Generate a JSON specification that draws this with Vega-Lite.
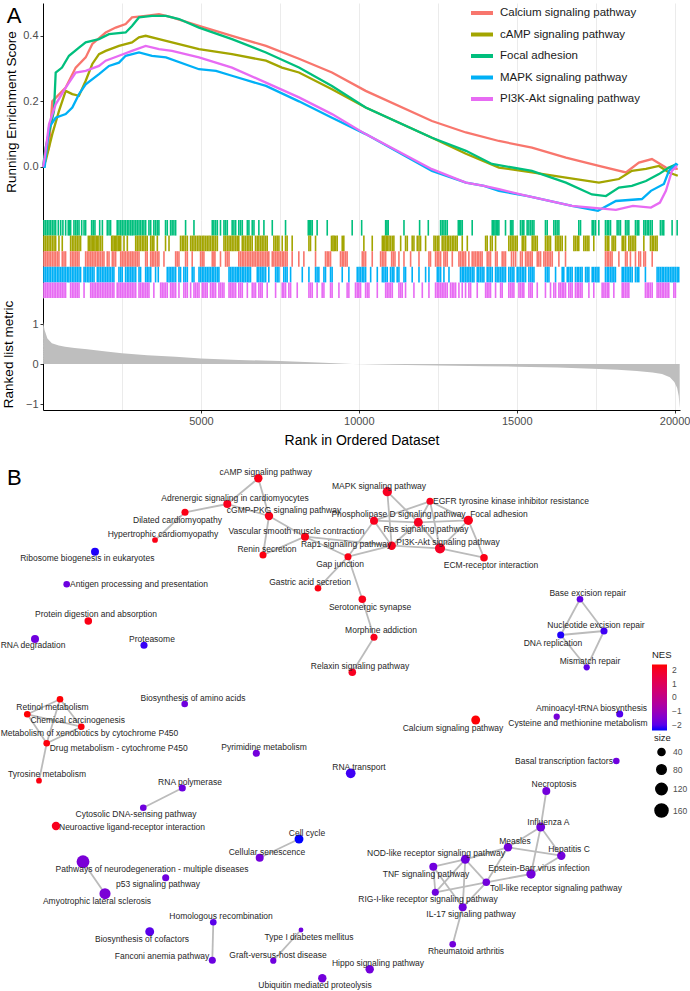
{
  "$schema": "https://vega.github.io/schema/vega-lite/v6.json",
  "padding": {"left": 0, "top": 0, "right": 0, "bottom": 0},
  "spacing": 0,
  "background": "white",
  "datasets": {
    "es": [
      {"set": "Calcium signaling pathway", "r": [1,85,190,294,719,1035,1352,1561,1985,2302,2618,2818,3251,3673,4084,4939,5984,7060,8105,9150,10217,12316,13392,14437,15482,16558,17603,18458,18869,19281,19724,20100], "es": [0,0.028,0.06,0.2,0.242,0.303,0.334,0.375,0.41,0.425,0.436,0.456,0.461,0.466,0.456,0.43,0.4,0.369,0.33,0.288,0.232,0.14,0.105,0.079,0.059,0.028,0.003,-0.017,0.013,0.024,-0.002,-0.006]},
      {"set": "cAMP signaling pathway", "r": [1,85,294,507,719,928,1140,1352,1561,1773,1985,2406,2818,3039,3251,3673,4084,4939,5984,7060,7567,8105,9150,10217,12316,13392,14437,15482,16558,17603,18236,18647,19091,19503,19819,20100], "es": [0,0.018,0.1,0.171,0.232,0.222,0.217,0.263,0.314,0.344,0.354,0.369,0.38,0.395,0.4,0.39,0.38,0.359,0.344,0.324,0.303,0.288,0.237,0.181,0.089,0.04,-0.002,-0.017,-0.033,-0.048,-0.037,-0.012,-0.006,0.003,-0.017,-0.027]},
      {"set": "Focal adhesion", "r": [1,85,348,402,602,823,1140,1352,1773,2089,2618,2818,3039,3451,3894,4306,4939,5984,7060,8105,9150,10217,12316,13392,14215,15482,16558,17382,17825,18236,18647,19091,19503,19819,20072], "es": [0,0.059,0.171,0.288,0.303,0.339,0.364,0.38,0.39,0.405,0.41,0.43,0.456,0.461,0.461,0.451,0.425,0.39,0.349,0.303,0.247,0.181,0.089,0.049,0.009,-0.012,-0.048,-0.084,-0.089,-0.063,-0.058,-0.043,-0.022,-0.002,0.009]},
      {"set": "MAPK signaling pathway", "r": [1,54,190,402,719,928,1140,1352,1773,2089,2406,2618,3039,3451,3894,4939,5477,5984,7060,8105,9150,10217,12316,13392,13962,14437,15355,16748,17571,18141,18964,19249,19661,19819,20041,20100], "es": [0,0,0.12,0.15,0.161,0.181,0.222,0.252,0.283,0.308,0.318,0.339,0.349,0.339,0.334,0.298,0.293,0.278,0.247,0.2,0.15,0.1,-0.012,-0.048,-0.058,-0.073,-0.089,-0.119,-0.134,-0.104,-0.098,-0.073,-0.052,-0.012,0.009,0.005]},
      {"set": "PI3K-Akt signaling pathway", "r": [1,54,190,402,719,1035,1352,1773,1985,2406,2818,3251,3673,4084,4939,5984,7060,8105,9150,10217,12316,13392,13962,14437,15355,16748,18141,18679,19249,19534,19724,19819,19914,20072], "es": [0,0.028,0.13,0.191,0.242,0.288,0.293,0.308,0.324,0.339,0.354,0.369,0.359,0.354,0.334,0.303,0.257,0.212,0.161,0.1,-0.007,-0.048,-0.058,-0.068,-0.089,-0.119,-0.131,-0.119,-0.124,-0.109,-0.073,-0.043,-0.012,0.003]}
    ],
    "rug": [
      {"set": "Focal adhesion", "pos": [30,85,135,190,240,295,350,400,485,560,630,717,800,845,875,980,1035,1085,1140,1225,1300,1350,1540,1590,1645,1795,1880,2035,2090,2140,2350,2405,2460,2510,2565,2615,2670,2720,2775,2825,2880,2935,2985,3040,3090,3145,3195,3250,3355,3410,3510,3565,3620,3670,3880,3935,4040,4090,4145,4200,4515,4780,5360,5410,5465,5520,5620,5730,5780,5835,5990,6045,6100,6200,6255,6310,6470,6520,6625,6680,6835,6995,7260,7680,8400,8440,8480,8525,8680,9000,9790,10090,10850,10890,10930,11430,11925,12200,12590,12640,12695,12745,12800,13150,13190,13230,13275,13590,14225,14265,14310,14350,14395,14435,14645,14805,14845,14880,15120,15175,15225,15330,15385,15440,15490,15545,15910,15965,16175,16230,16280,16335,16965,17020,17390,17440,17495,17600,17810,17865,17915,17970,18180,18235,18285,18445,18495,18550,18760,18815,18865,19025,19075,19130,19180,19235,19290,19550,19605,19655,19920,20080]},
      {"set": "cAMP signaling pathway", "pos": [30,85,135,190,240,295,350,400,505,610,875,930,980,1035,1085,1140,1190,1435,1475,1520,1560,1605,1645,1690,1720,1770,1825,1880,2175,2215,2260,2300,2340,2385,2425,2460,2565,2670,2935,2985,3040,3090,3145,3195,3250,3300,3410,3460,3510,3620,3880,3990,4355,4410,4460,4515,4570,4675,4725,4780,4830,4885,4940,4990,5045,5095,5150,5200,5255,5305,5360,5410,5465,5520,5730,5780,5835,5890,5940,5990,6045,6100,6150,6200,6310,6360,6415,6470,6520,6570,6625,6730,6785,6835,6890,6940,6995,7050,7100,7310,7365,7415,7470,7575,7680,7730,7890,8420,8470,8630,9135,9180,9220,9265,9315,9475,9525,10160,10425,10745,10785,10825,10870,10900,10955,11005,11060,11110,11325,11480,11535,11690,11745,11850,11905,11955,12115,12380,12430,12485,12535,12640,12695,12745,12800,12850,12905,12960,13010,13065,13115,13275,13435,14015,14065,14170,14225,14330,14750,14805,14855,14910,14965,15015,15175,15225,15280,15490,15545,15595,15650,15910,15965,16020,16070,16230,16280,16335,16385,16440,16545,16810,16860,16915,16965,17125,17180,17230,17285,17440,17810,17865,17915,18020,18075,18125,18340,18390,18445,18550,18600,18655,18710,18760,19025,19235,19290,19340,19395,19445]},
      {"set": "Calcium signaling pathway", "pos": [30,85,135,190,240,295,350,400,455,505,610,665,715,875,930,980,1035,1085,1140,1350,1405,1455,1510,1560,1615,1665,1720,1770,1825,1880,1930,2035,2090,2195,2245,2300,2460,2510,2565,2615,2670,2720,2775,2825,2880,2935,2985,3040,3250,3300,3410,3460,3510,3565,3620,3670,3830,4200,4250,4305,4515,4570,4725,4990,5045,5095,5360,5410,5445,5620,5780,5835,5890,6200,6255,6310,6360,6415,6470,6520,6570,6625,6680,6730,6785,6835,6890,6940,6995,7050,7100,7150,7260,7310,7365,7415,7470,7520,7575,7625,7680,7730,7890,8100,8260,8630,8945,9000,9050,9105,9420,9475,9525,9580,9630,10110,10160,10215,10425,10690,10745,10795,10850,11040,11090,11145,11270,11430,11640,11905,12220,12270,12430,12485,12535,12590,12695,12745,12800,12960,13170,13220,13275,13325,13380,13485,13590,13645,13695,13750,13800,13855,13905,14065,14120,14170,14330,14380,14540,14595,14645,14835,14900,14965,15120,15175,15280,15330,15385,15440,15490,15650,15700,15755,15860,15910,15965,16020,16070,16125,16335,16545,17810,17865,17915,17970,18020,18235,18445,18495,18600,18760,18865,18920,19025,19075,19290]},
      {"set": "MAPK signaling pathway", "pos": [30,85,135,190,240,295,350,400,455,505,560,610,665,715,770,820,875,930,980,1035,1085,1140,1190,1300,1350,1405,1455,1510,1560,1615,1720,1770,1825,1880,1930,1985,2035,2090,2140,2195,2245,2405,2460,2510,2615,2670,2720,2775,2825,2880,2935,3040,3090,3250,3300,3355,3410,3565,3650,3935,3990,4040,4090,4145,4200,4305,4355,4460,4515,4570,4725,4780,4940,4990,5045,5095,5150,5200,5255,5305,5360,5410,5465,5520,5570,5890,5940,5990,6045,6100,6150,6200,6255,6310,6360,6415,6470,6520,6570,6785,6835,6890,6940,6995,7050,7150,7365,7415,7470,7625,7680,7730,7840,8210,8420,8630,8680,8735,8895,8945,9105,9155,9475,9685,9950,10005,10055,10110,10160,10215,10375,10585,10745,10795,10850,10900,11005,11060,11110,11215,11270,11430,11480,11690,11905,12115,12220,12485,12535,12590,12695,12855,13220,13275,13325,13380,13430,13485,13535,13590,13645,13750,13800,13855,13905,13960,14065,14120,14170,14225,14330,14380,14435,14490,14540,14595,14645,14750,14805,14855,14910,15015,15070,15120,15175,15225,15280,15385,15440,15490,15545,15910,15965,16020,16230,16440,16490,16600,16650,16705,16755,16860,16915,16965,17020,17070,17180,17230,17285,17390,17440,17495,17545,17600,17810,17865,17915,17970,18020,18075,18125,18340,18390,18445,18495,18550,18600,18655,18760,18815,18865,19075,19445,19500,19550,19605,19655,19710,19760,19815,19870,19920,19975,20025,20080,20130]},
      {"set": "PI3K-Akt signaling pathway", "pos": [30,85,135,190,240,295,350,400,455,505,560,610,665,715,875,930,980,1035,1085,1140,1300,1510,1560,1615,1665,1720,1770,1825,1880,1930,1985,2035,2090,2140,2195,2245,2350,2405,2460,2510,2565,2615,2670,2720,2775,2825,2880,2935,3040,3090,3145,3195,3250,3300,3355,3510,3725,3775,3830,3880,3935,4040,4090,4145,4200,4305,4460,4515,4570,4675,4780,4830,4885,4940,5045,5095,5150,5200,5305,5360,5410,5465,5570,5620,5675,5730,5890,5940,5990,6045,6100,6200,6255,6310,6470,6625,6680,6730,6835,6890,6940,7100,7365,7575,7625,7680,7785,7840,8050,8420,8470,8525,8680,8840,8895,9105,9155,9370,9630,9685,9895,9950,10000,10055,10215,10270,10320,10585,10850,10900,10955,11005,11060,11270,11325,11375,11480,11745,12010,12220,12430,12485,12535,12590,12640,12695,12745,12800,12905,12960,13010,13065,13170,13275,13380,13485,13540,13750,14015,14065,14120,14170,14330,14490,14540,14750,14805,14855,14910,15070,15120,15175,15225,15385,15440,15490,15650,15910,16070,16175,16230,16335,16385,16440,16490,16545,16650,16705,16755,16860,16915,16965,17020,17070,17285,17440,17705,17760,17810,17865,17915,18075,18340,18390,18445,18495,18550,19075,19130,19180,19235,19290,19445,19500,19550,19605,19655,19710,19760,19815,19975,20025]}
    ],
    "ranked": [
      {"r": [1,50,140,280,500,700,1000,1400,2000,2500,3300,4200,5000,6200,7500,8700,9800,11000,12500,14000,15000,16300,17400,18200,18800,19300,19600,19850,19990,20080,20130,20160], "m": [1.05,0.85,0.64,0.52,0.46,0.43,0.4,0.37,0.31,0.27,0.22,0.18,0.14,0.1,0.075,0.04,0,-0.02,-0.035,-0.055,-0.067,-0.09,-0.12,-0.145,-0.175,-0.21,-0.25,-0.33,-0.45,-0.6,-0.8,-1.1]}
    ],
    "nodes": [
      {"id": "cAMP signaling pathway", "x": 259.3, "y": 478.3, "lx": 266.7, "ly": 472.3, "NES": 2.2, "size": 61},
      {"id": "Adrenergic signaling in cardiomyocytes", "x": 228.3, "y": 504, "lx": 236, "ly": 498, "NES": 2.1, "size": 54},
      {"id": "Dilated cardiomyopathy", "x": 186, "y": 512.3, "lx": 178.5, "ly": 520, "NES": 2.2, "size": 40},
      {"id": "Hypertrophic cardiomyopathy", "x": 156, "y": 540, "lx": 164, "ly": 534, "NES": 2.2, "size": 23},
      {"id": "cGMP-PKG signaling pathway", "x": 270, "y": 516, "lx": 285, "ly": 510, "NES": 2.15, "size": 61},
      {"id": "Vascular smooth muscle contraction", "x": 306, "y": 536.7, "lx": 297.5, "ly": 530.7, "NES": 2.2, "size": 54},
      {"id": "Renin secretion", "x": 264, "y": 555, "lx": 268, "ly": 548.7, "NES": 2.25, "size": 40},
      {"id": "Ribosome biogenesis in eukaryotes", "x": 96, "y": 551.7, "lx": 88.3, "ly": 558.3, "NES": -2.35, "size": 54},
      {"id": "Antigen processing and presentation", "x": 67.7, "y": 584.3, "lx": 140, "ly": 584, "NES": -1.8, "size": 34},
      {"id": "Protein digestion and absorption", "x": 89.3, "y": 621, "lx": 97, "ly": 614.3, "NES": 2.2, "size": 47},
      {"id": "Gastric acid secretion", "x": 319, "y": 588.3, "lx": 311, "ly": 582, "NES": 2.25, "size": 34},
      {"id": "Rap1 signaling pathway", "x": 392.7, "y": 545.7, "lx": 347, "ly": 544, "NES": 2.1, "size": 61},
      {"id": "Gap junction", "x": 349, "y": 556.7, "lx": 341, "ly": 564.3, "NES": 2.2, "size": 40},
      {"id": "MAPK signaling pathway", "x": 388.3, "y": 491.7, "lx": 380, "ly": 485.7, "NES": 2.05, "size": 77},
      {"id": "EGFR tyrosine kinase inhibitor resistance", "x": 431, "y": 501.3, "lx": 512, "ly": 501, "NES": 2.1, "size": 40},
      {"id": "Phospholipase D signaling pathway", "x": 375, "y": 520.7, "lx": 399.5, "ly": 514.3, "NES": 2.1, "size": 54},
      {"id": "Ras signaling pathway", "x": 419.3, "y": 522.3, "lx": 427, "ly": 529, "NES": 2.05, "size": 69},
      {"id": "Focal adhesion", "x": 469.3, "y": 520.3, "lx": 500, "ly": 514, "NES": 2.15, "size": 77},
      {"id": "PI3K-Akt signaling pathway", "x": 441, "y": 548.3, "lx": 449, "ly": 542.3, "NES": 2.0, "size": 94},
      {"id": "ECM-receptor interaction", "x": 485, "y": 557.7, "lx": 492, "ly": 565, "NES": 2.2, "size": 47},
      {"id": "Serotonergic synapse", "x": 363.3, "y": 599.3, "lx": 371, "ly": 606.7, "NES": 2.15, "size": 47},
      {"id": "Base excision repair", "x": 581, "y": 599.3, "lx": 588.7, "ly": 592.7, "NES": -1.9, "size": 34},
      {"id": "Nucleotide excision repair", "x": 605, "y": 631, "lx": 597, "ly": 625.3, "NES": -2.2, "size": 40},
      {"id": "RNA degradation", "x": 36, "y": 639, "lx": 34, "ly": 645.3, "NES": -1.75, "size": 54},
      {"id": "Proteasome", "x": 145, "y": 645.3, "lx": 153, "ly": 639.3, "NES": -2.25, "size": 40},
      {"id": "Biosynthesis of amino acids", "x": 185.7, "y": 704, "lx": 194, "ly": 697.7, "NES": -1.75, "size": 34},
      {"id": "Metabolism of xenobiotics by cytochrome P450", "x": 61, "y": 699.3, "lx": 90.5, "ly": 733.3, "NES": 2.35, "size": 34},
      {"id": "Retinol metabolism", "x": 28.3, "y": 714.3, "lx": 53.5, "ly": 706.7, "NES": 2.35, "size": 34},
      {"id": "Chemical carcinogenesis", "x": 82.3, "y": 726.7, "lx": 78.7, "ly": 720, "NES": 2.3, "size": 34},
      {"id": "Drug metabolism - cytochrome P450", "x": 47.7, "y": 743.3, "lx": 119.7, "ly": 747.7, "NES": 2.3, "size": 34},
      {"id": "Tyrosine metabolism", "x": 40, "y": 780.7, "lx": 48, "ly": 774, "NES": 2.25, "size": 23},
      {"id": "Pyrimidine metabolism", "x": 257.3, "y": 753.3, "lx": 265, "ly": 746.7, "NES": -1.7, "size": 40},
      {"id": "RNA polymerase", "x": 183.3, "y": 788, "lx": 191, "ly": 781.7, "NES": -1.8, "size": 40},
      {"id": "Cytosolic DNA-sensing pathway", "x": 144.3, "y": 807.7, "lx": 137, "ly": 814.3, "NES": -1.75, "size": 34},
      {"id": "Neuroactive ligand-receptor interaction", "x": 57, "y": 826, "lx": 133, "ly": 826.7, "NES": 2.1, "size": 61},
      {"id": "Morphine addiction", "x": 375, "y": 637.3, "lx": 382, "ly": 630, "NES": 2.1, "size": 40},
      {"id": "Relaxin signaling pathway", "x": 353.3, "y": 672.3, "lx": 361, "ly": 665.7, "NES": 2.05, "size": 47},
      {"id": "DNA replication", "x": 561.7, "y": 635, "lx": 554, "ly": 642.7, "NES": -2.35, "size": 40},
      {"id": "Mismatch repair", "x": 587.7, "y": 667.3, "lx": 591, "ly": 661, "NES": -1.95, "size": 29},
      {"id": "Calcium signaling pathway", "x": 476.7, "y": 720, "lx": 454, "ly": 727.7, "NES": 2.35, "size": 69},
      {"id": "Aminoacyl-tRNA biosynthesis", "x": 620.7, "y": 714, "lx": 592.5, "ly": 707.7, "NES": -2.05, "size": 40},
      {"id": "Cysteine and methionine metabolism", "x": 557.7, "y": 716.7, "lx": 579, "ly": 723.3, "NES": -1.65, "size": 29},
      {"id": "Basal transcription factors", "x": 617.3, "y": 761, "lx": 565, "ly": 761, "NES": -1.75, "size": 34},
      {"id": "RNA transport", "x": 351.7, "y": 773.3, "lx": 360, "ly": 766.7, "NES": -2.2, "size": 85},
      {"id": "Necroptosis", "x": 547.3, "y": 791, "lx": 555, "ly": 784.3, "NES": -1.7, "size": 54},
      {"id": "Influenza A", "x": 541.7, "y": 827, "lx": 549.3, "ly": 821.7, "NES": -1.75, "size": 69},
      {"id": "Cell cycle", "x": 300, "y": 839, "lx": 308, "ly": 832.7, "NES": -2.4, "size": 69},
      {"id": "Cellular senescence", "x": 260.7, "y": 857.7, "lx": 268, "ly": 851.7, "NES": -1.7, "size": 54},
      {"id": "Pathways of neurodegeneration - multiple diseases", "x": 84, "y": 861.7, "lx": 153, "ly": 868.7, "NES": -1.6, "size": 155},
      {"id": "p53 signaling pathway", "x": 166.7, "y": 877.7, "lx": 159, "ly": 884.3, "NES": -1.75, "size": 40},
      {"id": "Amyotrophic lateral sclerosis", "x": 106, "y": 893.7, "lx": 98, "ly": 900.7, "NES": -1.6, "size": 113},
      {"id": "Homologous recombination", "x": 214.3, "y": 922.3, "lx": 222, "ly": 916, "NES": -2.0, "size": 34},
      {"id": "Biosynthesis of cofactors", "x": 150.7, "y": 931.7, "lx": 143, "ly": 938.7, "NES": -2.0, "size": 69},
      {"id": "Fanconi anemia pathway", "x": 213.3, "y": 960.3, "lx": 163, "ly": 955.7, "NES": -1.8, "size": 40},
      {"id": "Type I diabetes mellitus", "x": 302, "y": 930, "lx": 310, "ly": 937, "NES": -1.75, "size": 14},
      {"id": "Graft-versus-host disease", "x": 274.3, "y": 960.7, "lx": 279, "ly": 954.7, "NES": -1.75, "size": 29},
      {"id": "Ubiquitin mediated proteolysis", "x": 323.3, "y": 978.3, "lx": 316, "ly": 984.5, "NES": -1.7, "size": 61},
      {"id": "Hippo signaling pathway", "x": 370.7, "y": 969.3, "lx": 379, "ly": 963.3, "NES": -1.7, "size": 61},
      {"id": "Measles", "x": 509, "y": 847.3, "lx": 516, "ly": 841, "NES": -1.7, "size": 61},
      {"id": "Hepatitis C", "x": 562.3, "y": 855.7, "lx": 570, "ly": 849.3, "NES": -1.7, "size": 61},
      {"id": "NOD-like receptor signaling pathway", "x": 466.3, "y": 859.3, "lx": 437, "ly": 853.3, "NES": -1.75, "size": 69},
      {"id": "TNF signaling pathway", "x": 434.3, "y": 866.7, "lx": 427, "ly": 874, "NES": -1.75, "size": 54},
      {"id": "Epstein-Barr virus infection", "x": 532, "y": 874, "lx": 540, "ly": 867.7, "NES": -1.7, "size": 77},
      {"id": "Toll-like receptor signaling pathway", "x": 487.3, "y": 882.3, "lx": 557, "ly": 888.3, "NES": -1.7, "size": 47},
      {"id": "RIG-I-like receptor signaling pathway", "x": 436.3, "y": 892.3, "lx": 429, "ly": 899.3, "NES": -1.75, "size": 40},
      {"id": "IL-17 signaling pathway", "x": 463.7, "y": 907.3, "lx": 472, "ly": 914.3, "NES": -1.75, "size": 54},
      {"id": "Rheumatoid arthritis", "x": 453.7, "y": 944.3, "lx": 467, "ly": 951.3, "NES": -1.7, "size": 34}
    ],
    "edges": [
      {"a": "cAMP signaling pathway", "b": "Adrenergic signaling in cardiomyocytes"},
      {"a": "cAMP signaling pathway", "b": "cGMP-PKG signaling pathway"},
      {"a": "Adrenergic signaling in cardiomyocytes", "b": "Dilated cardiomyopathy"},
      {"a": "Adrenergic signaling in cardiomyocytes", "b": "cGMP-PKG signaling pathway"},
      {"a": "Dilated cardiomyopathy", "b": "Hypertrophic cardiomyopathy"},
      {"a": "cGMP-PKG signaling pathway", "b": "Renin secretion"},
      {"a": "cGMP-PKG signaling pathway", "b": "Vascular smooth muscle contraction"},
      {"a": "Vascular smooth muscle contraction", "b": "Renin secretion"},
      {"a": "Vascular smooth muscle contraction", "b": "Rap1 signaling pathway"},
      {"a": "Vascular smooth muscle contraction", "b": "Gap junction"},
      {"a": "Gastric acid secretion", "b": "Gap junction"},
      {"a": "Gap junction", "b": "Rap1 signaling pathway"},
      {"a": "Gap junction", "b": "Phospholipase D signaling pathway"},
      {"a": "Gap junction", "b": "Serotonergic synapse"},
      {"a": "Serotonergic synapse", "b": "Morphine addiction"},
      {"a": "Morphine addiction", "b": "Relaxin signaling pathway"},
      {"a": "Rap1 signaling pathway", "b": "Phospholipase D signaling pathway"},
      {"a": "Rap1 signaling pathway", "b": "Ras signaling pathway"},
      {"a": "Rap1 signaling pathway", "b": "PI3K-Akt signaling pathway"},
      {"a": "Rap1 signaling pathway", "b": "MAPK signaling pathway"},
      {"a": "MAPK signaling pathway", "b": "Ras signaling pathway"},
      {"a": "EGFR tyrosine kinase inhibitor resistance", "b": "Phospholipase D signaling pathway"},
      {"a": "EGFR tyrosine kinase inhibitor resistance", "b": "Ras signaling pathway"},
      {"a": "EGFR tyrosine kinase inhibitor resistance", "b": "Focal adhesion"},
      {"a": "EGFR tyrosine kinase inhibitor resistance", "b": "PI3K-Akt signaling pathway"},
      {"a": "Phospholipase D signaling pathway", "b": "Ras signaling pathway"},
      {"a": "Ras signaling pathway", "b": "Focal adhesion"},
      {"a": "Ras signaling pathway", "b": "PI3K-Akt signaling pathway"},
      {"a": "Focal adhesion", "b": "PI3K-Akt signaling pathway"},
      {"a": "Focal adhesion", "b": "ECM-receptor interaction"},
      {"a": "PI3K-Akt signaling pathway", "b": "ECM-receptor interaction"},
      {"a": "Base excision repair", "b": "Nucleotide excision repair"},
      {"a": "Base excision repair", "b": "DNA replication"},
      {"a": "DNA replication", "b": "Nucleotide excision repair"},
      {"a": "Nucleotide excision repair", "b": "Mismatch repair"},
      {"a": "DNA replication", "b": "Mismatch repair"},
      {"a": "Metabolism of xenobiotics by cytochrome P450", "b": "Retinol metabolism"},
      {"a": "Metabolism of xenobiotics by cytochrome P450", "b": "Chemical carcinogenesis"},
      {"a": "Metabolism of xenobiotics by cytochrome P450", "b": "Drug metabolism - cytochrome P450"},
      {"a": "Retinol metabolism", "b": "Chemical carcinogenesis"},
      {"a": "Retinol metabolism", "b": "Drug metabolism - cytochrome P450"},
      {"a": "Chemical carcinogenesis", "b": "Drug metabolism - cytochrome P450"},
      {"a": "Drug metabolism - cytochrome P450", "b": "Tyrosine metabolism"},
      {"a": "RNA polymerase", "b": "Cytosolic DNA-sensing pathway"},
      {"a": "Cell cycle", "b": "Cellular senescence"},
      {"a": "Pathways of neurodegeneration - multiple diseases", "b": "Amyotrophic lateral sclerosis"},
      {"a": "Homologous recombination", "b": "Fanconi anemia pathway"},
      {"a": "Type I diabetes mellitus", "b": "Graft-versus-host disease"},
      {"a": "Necroptosis", "b": "Influenza A"},
      {"a": "Influenza A", "b": "Measles"},
      {"a": "Influenza A", "b": "Hepatitis C"},
      {"a": "Influenza A", "b": "Epstein-Barr virus infection"},
      {"a": "Measles", "b": "Hepatitis C"},
      {"a": "Measles", "b": "NOD-like receptor signaling pathway"},
      {"a": "Measles", "b": "Toll-like receptor signaling pathway"},
      {"a": "Hepatitis C", "b": "Epstein-Barr virus infection"},
      {"a": "Epstein-Barr virus infection", "b": "Toll-like receptor signaling pathway"},
      {"a": "NOD-like receptor signaling pathway", "b": "TNF signaling pathway"},
      {"a": "NOD-like receptor signaling pathway", "b": "RIG-I-like receptor signaling pathway"},
      {"a": "NOD-like receptor signaling pathway", "b": "Toll-like receptor signaling pathway"},
      {"a": "NOD-like receptor signaling pathway", "b": "IL-17 signaling pathway"},
      {"a": "TNF signaling pathway", "b": "RIG-I-like receptor signaling pathway"},
      {"a": "TNF signaling pathway", "b": "IL-17 signaling pathway"},
      {"a": "RIG-I-like receptor signaling pathway", "b": "Toll-like receptor signaling pathway"},
      {"a": "Toll-like receptor signaling pathway", "b": "IL-17 signaling pathway"},
      {"a": "IL-17 signaling pathway", "b": "Rheumatoid arthritis"}
    ]
  },
  "vconcat": [
    {
      "width": 637,
      "height": 217,
      "layer": [
        {
          "data": {"name": "es"},
          "transform": [{"flatten": ["r", "es"]}],
          "mark": {"type": "line", "strokeWidth": 2.3},
          "encoding": {
            "x": {"field": "r", "type": "quantitative", "scale": {"domain": [0, 20170], "nice": false, "zero": false},
                  "axis": {"values": [2500,5000,7500,10000,12500,15000,17500,20000], "grid": true, "labels": false, "ticks": false, "domain": false, "title": null}},
            "y": {"field": "es", "type": "quantitative", "scale": {"domain": [-0.162, 0.5], "nice": false, "zero": false},
                  "axis": {"values": [0, 0.2, 0.4], "format": ".1f", "grid": false, "title": "Running Enrichment Score", "titlePadding": 4.5}},
            "color": {"field": "set", "type": "nominal",
                      "scale": {"domain": ["Calcium signaling pathway", "cAMP signaling pathway", "Focal adhesion", "MAPK signaling pathway", "PI3K-Akt signaling pathway"],
                                "range": ["#F8766D", "#A3A500", "#00BF7D", "#00B0F6", "#E76BF3"]},
                      "legend": {"orient": "none", "legendX": 426, "legendY": -3, "padding": 0, "title": null, "symbolType": "stroke", "symbolStrokeWidth": 4, "symbolSize": 484, "labelFontSize": 11.5, "labelColor": "#1A1A1A", "rowPadding": 0.5, "labelOffset": 5}}
          }
        },
        {
          "data": {"values": [{"t": "A", "r": -1150, "es": 0.46}]},
          "mark": {"type": "text", "fontSize": 22, "align": "left", "baseline": "middle", "color": "black"},
          "encoding": {
            "x": {"field": "r", "type": "quantitative", "scale": {"domain": [0, 20170], "nice": false, "zero": false}},
            "y": {"field": "es", "type": "quantitative", "scale": {"domain": [-0.162, 0.5], "nice": false, "zero": false}},
            "text": {"field": "t"}
          }
        }
      ]
    },
    {
      "width": 637,
      "height": 78,
      "data": {"name": "rug"},
      "transform": [{"flatten": ["pos"]}],
      "mark": {"type": "tick", "thickness": 1.6, "size": 15.6, "opacity": 1},
      "encoding": {
        "x": {"field": "pos", "type": "quantitative", "scale": {"domain": [0, 20170], "nice": false, "zero": false},
              "axis": {"values": [2500,5000,7500,10000,12500,15000,17500,20000], "grid": true, "labels": false, "ticks": false, "domain": false, "title": null}},
        "y": {"field": "set", "type": "nominal",
              "sort": ["Focal adhesion", "cAMP signaling pathway", "Calcium signaling pathway", "MAPK signaling pathway", "PI3K-Akt signaling pathway"],
              "scale": {"paddingInner": 0, "paddingOuter": 0},
              "axis": {"labels": false, "ticks": false, "title": null, "domain": true, "grid": false}},
        "color": {"field": "set", "type": "nominal",
                  "scale": {"domain": ["Calcium signaling pathway", "cAMP signaling pathway", "Focal adhesion", "MAPK signaling pathway", "PI3K-Akt signaling pathway"],
                            "range": ["#F8766D", "#A3A500", "#00BF7D", "#00B0F6", "#E76BF3"]},
                  "legend": null}
      }
    },
    {
      "width": 637,
      "height": 112,
      "data": {"name": "ranked"},
      "transform": [{"flatten": ["r", "m"]}],
      "mark": {"type": "area", "color": "#BEBEBE"},
      "encoding": {
        "x": {"field": "r", "type": "quantitative", "scale": {"domain": [0, 20170], "nice": false, "zero": false},
              "axis": {"values": [2500,5000,7500,10000,12500,15000,17500,20000], "format": "d",
                       "labelExpr": "datum.value % 5000 === 0 ? datum.label : ''",
                       "tickOpacity": {"condition": {"test": "datum.value % 5000 === 0", "value": 1}, "value": 0},
                       "grid": true, "title": "Rank in Ordered Dataset", "titleFontSize": 14, "titlePadding": 7}},
        "y": {"field": "m", "type": "quantitative", "scale": {"domain": [-1.15, 1.65], "nice": false, "zero": false},
              "axis": {"values": [-1, 0, 1], "grid": false, "title": "Ranked list metric", "titlePadding": 10}},
        "y2": {"datum": 0}
      }
    },
    {
      "width": 646,
      "height": 544,
      "layer": [
        {
          "data": {"name": "edges"},
          "transform": [
            {"lookup": "a", "from": {"data": {"name": "nodes"}, "key": "id", "fields": ["x", "y"]}, "as": ["xa", "ya"]},
            {"lookup": "b", "from": {"data": {"name": "nodes"}, "key": "id", "fields": ["x", "y"]}, "as": ["xb", "yb"]}
          ],
          "mark": {"type": "rule", "color": "#BBBBBB", "strokeWidth": 1.8},
          "encoding": {
            "x": {"field": "xa", "type": "quantitative", "scale": {"domain": [44, 690], "nice": false, "zero": false}, "axis": null},
            "y": {"field": "ya", "type": "quantitative", "scale": {"domain": [447, 991], "nice": false, "zero": false, "reverse": true}, "axis": null},
            "x2": {"field": "xb"},
            "y2": {"field": "yb"}
          }
        },
        {
          "data": {"name": "nodes"},
          "mark": {"type": "circle", "opacity": 1},
          "encoding": {
            "x": {"field": "x", "type": "quantitative", "scale": {"domain": [44, 690], "nice": false, "zero": false}, "axis": null},
            "y": {"field": "y", "type": "quantitative", "scale": {"domain": [447, 991], "nice": false, "zero": false, "reverse": true}, "axis": null},
            "color": {"field": "NES", "type": "quantitative",
                      "scale": {"domain": [-2.4, 2.38], "range": ["blue", "red"], "interpolate": "lab"},
                      "legend": {"orient": "none", "legendX": 609, "legendY": 203, "direction": "vertical", "title": "NES", "titleFontSize": 9.5, "titleFontWeight": "normal", "titleColor": "#1A1A1A", "values": [-2, -1, 0, 1, 2], "gradientLength": 66, "gradientThickness": 15, "labelFontSize": 8.5, "labelColor": "#4D4D4D", "labelOffset": 5}},
            "size": {"field": "size", "type": "quantitative",
                     "scale": {"domain": [0, 200], "range": [10, 210]},
                     "legend": {"orient": "none", "legendX": 611, "legendY": 286, "direction": "vertical", "title": "size", "titleFontSize": 9.5, "titleFontWeight": "normal", "titleColor": "#1A1A1A", "values": [40, 80, 120, 160], "symbolFillColor": "black", "symbolStrokeColor": "black", "symbolOpacity": 1, "labelFontSize": 8.5, "labelColor": "#4D4D4D", "rowPadding": 1.5}}
          }
        },
        {
          "data": {"name": "nodes"},
          "mark": {"type": "text", "fontSize": 8.5, "color": "#262626", "align": "center", "baseline": "middle"},
          "encoding": {
            "x": {"field": "lx", "type": "quantitative", "scale": {"domain": [44, 690], "nice": false, "zero": false}, "axis": null},
            "y": {"field": "ly", "type": "quantitative", "scale": {"domain": [447, 991], "nice": false, "zero": false, "reverse": true}, "axis": null},
            "text": {"field": "id"}
          }
        },
        {
          "data": {"values": [{"t": "B", "x": 8, "y": 478}]},
          "mark": {"type": "text", "fontSize": 22, "align": "left", "baseline": "middle", "color": "black"},
          "encoding": {
            "x": {"field": "x", "type": "quantitative", "scale": {"domain": [44, 690], "nice": false, "zero": false}, "axis": null},
            "y": {"field": "y", "type": "quantitative", "scale": {"domain": [447, 991], "nice": false, "zero": false, "reverse": true}, "axis": null},
            "text": {"field": "t"}
          }
        }
      ]
    }
  ],
  "resolve": {
    "scale": {"color": "independent", "size": "independent"},
    "legend": {"color": "independent", "size": "independent"}
  },
  "config": {
    "font": "Liberation Sans",
    "view": {"stroke": null},
    "axis": {
      "labelColor": "#4D4D4D", "labelFontSize": 11, "labelPadding": 2,
      "titleColor": "black", "titleFontSize": 13.5, "titleFontWeight": "normal",
      "domainColor": "black", "domainWidth": 1, "tickColor": "#333333", "tickSize": 3,
      "gridColor": "#EBEBEB", "gridWidth": 1
    },
    "legend": {"labelFont": "Liberation Sans", "titleFont": "Liberation Sans"}
  }
}
